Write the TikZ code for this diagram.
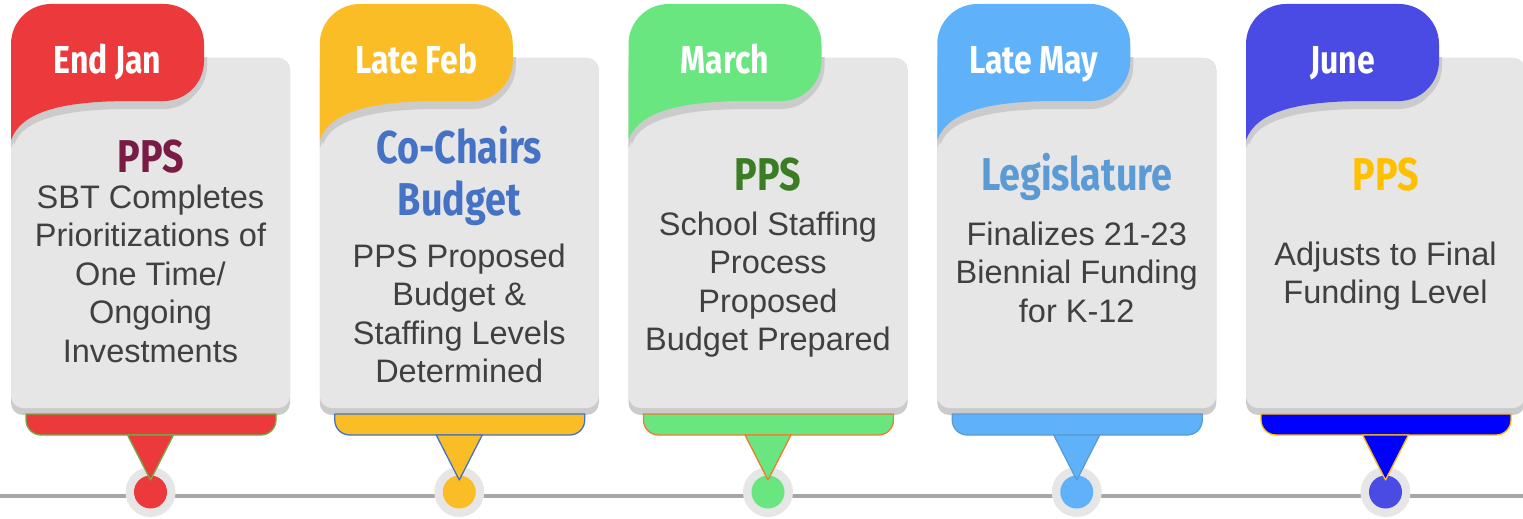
\documentclass[tikz,border=0pt]{standalone}
\usepackage{fontspec}
\setmainfont{Liberation Sans}
\newfontfamily\headfont[FakeStretch=0.82]{Fira Sans}
\definecolor{cred}{HTML}{EC3A3C}
\definecolor{cyellow}{HTML}{FBBD26}
\definecolor{cgreen}{HTML}{69E680}
\definecolor{clblue}{HTML}{5FB1FA}
\definecolor{cindigo}{HTML}{4A4AE4}
\definecolor{cpure}{HTML}{0000FF}
\definecolor{olgreen}{HTML}{70AD47}
\definecolor{olblue}{HTML}{4472C4}
\definecolor{olorange}{HTML}{ED7D31}
\definecolor{ollblue}{HTML}{5B9BD5}
\definecolor{olgold}{HTML}{FFC000}
\definecolor{tmaroon}{HTML}{7A1B45}
\definecolor{tblue}{HTML}{4472C4}
\definecolor{tgreen}{HTML}{3B7D23}
\definecolor{tlblue}{HTML}{5B9BD5}
\definecolor{tgold}{HTML}{FFC000}
\definecolor{cardgray}{HTML}{E6E6E6}
\definecolor{cardshade}{HTML}{CBCBCB}
\definecolor{ringgray}{HTML}{E6E6E6}
\definecolor{linegray}{HTML}{A6A6A6}
\definecolor{bodytext}{HTML}{404040}
\tikzset{
  tabpath/.style={insert path={(#1,140) -- (#1,44) .. controls (#1,22) and (#1+18,4) .. (#1+40,4)
     -- (#1+153,4) .. controls (#1+175,4) and (#1+193,22) .. (#1+193,44)
     -- (#1+193,61) .. controls (#1+193,83) and (#1+175,101) .. (#1+153,101)
     -- (#1+120,101) .. controls (#1+50,101) and (#1+10,112) .. (#1,140) -- cycle}},
  timeline/.style={draw=linegray, line width=4.5pt},
  barstyle/.style={line width=1.3pt, line join=round},
  tablabel/.style={font=\headfont\bfseries\fontsize{39}{39}\selectfont, text=white, anchor=base, inner sep=0pt},
  titletext/.style={font=\headfont\bfseries\fontsize{46}{46}\selectfont, anchor=base, inner sep=0pt},
  bodyline/.style={font=\fontsize{32.5}{38.5}\selectfont, text=bodytext, anchor=base, inner sep=0pt},
}
\begin{document}
\begin{tikzpicture}[x=1pt,y=-1pt]
\useasboundingbox (0,0) rectangle (1523,519);
\coordinate (tlstart) at (0,496);
\coordinate (tlend) at (1523,496);
\draw[timeline] (tlstart) -- (tlend);
\foreach \n/\xo/\tc/\lab/\barfill/\barline/\dotc in {
  1/11/cred/End Jan/cred/olgreen/cred,
  2/319.75/cyellow/Late Feb/cyellow/olblue/cyellow,
  3/628.5/cgreen/March/cgreen/olorange/cgreen,
  4/937.25/clblue/Late May/clblue/ollblue/clblue,
  5/1246/cindigo/June/cpure/olgold/cindigo}{
  \pgfmathsetmacro\cx{\xo+139.5}
  \fill[cardshade, rounded corners=12pt] (\xo,58) rectangle (\xo+279,415);
  \fill[cardgray, rounded corners=12pt] (\xo,58) rectangle (\xo+279,408);
  \begin{scope}
    \clip (\xo,58) rectangle (\xo+279,408);
    \fill[cardshade, shift={(0,8)}] [tabpath=\xo];
    \fill[cardshade, shift={(3,5)}] [tabpath=\xo];
  \end{scope}
  \fill[fill=\tc] [tabpath=\xo];
  \node[tablabel] (tab\n) at (\xo+96.5,74) {\lab};
  \draw[barstyle, fill=\barfill, draw=\barline] (\xo+15,414) -- (\xo+265,414) -- (\xo+265,420)
     .. controls (\xo+265,428.3) and (\xo+258.3,435) .. (\xo+250,435) -- (\xo+30,435)
     .. controls (\xo+21.7,435) and (\xo+15,428.3) .. (\xo+15,420) -- cycle;
  \fill[ringgray] (\cx,492) circle[radius=25];
  \fill[\dotc] (\cx,492) circle[radius=16.5];
  \draw[barstyle, fill=\barfill, draw=\barline] (\cx-23,435) -- (\cx,480) -- (\cx+23,435) -- cycle;
}
% card 1
\node[titletext, text=tmaroon] (t1) at (150.5,172) {PPS};
\node[bodyline] (b1a) at (150.5,208) {SBT Completes};
\node[bodyline] (b1b) at (150.5,246.5) {Prioritizations of};
\node[bodyline] (b1c) at (150.5,285) {One Time/};
\node[bodyline] (b1d) at (150.5,323.5) {Ongoing};
\node[bodyline] (b1e) at (150.5,362) {Investments};
% card 2
\node[titletext, text=tblue] (t2a) at (459.25,163) {Co-Chairs};
\node[titletext, text=tblue] (t2b) at (459.25,215) {Budget};
\node[bodyline] (b2a) at (459.25,267) {PPS Proposed};
\node[bodyline] (b2b) at (459.25,305.5) {Budget \&};
\node[bodyline] (b2c) at (459.25,344) {Staffing Levels};
\node[bodyline] (b2d) at (459.25,382.5) {Determined};
% card 3
\node[titletext, text=tgreen] (t3) at (768,190) {PPS};
\node[bodyline] (b3a) at (768,235) {School Staffing};
\node[bodyline] (b3b) at (768,273.5) {Process};
\node[bodyline] (b3c) at (768,312) {Proposed};
\node[bodyline] (b3d) at (768,350.5) {Budget Prepared};
% card 4
\node[titletext, text=tlblue] (t4) at (1076.75,190) {Legislature};
\node[bodyline] (b4a) at (1076.75,245) {Finalizes 21-23};
\node[bodyline] (b4b) at (1076.75,283.5) {Biennial Funding};
\node[bodyline] (b4c) at (1076.75,322) {for K-12};
% card 5
\node[titletext, text=tgold] (t5) at (1385.5,190) {PPS};
\node[bodyline] (b5a) at (1385.5,265) {Adjusts to Final};
\node[bodyline] (b5b) at (1385.5,303.5) {Funding Level};
\end{tikzpicture}
\end{document}
